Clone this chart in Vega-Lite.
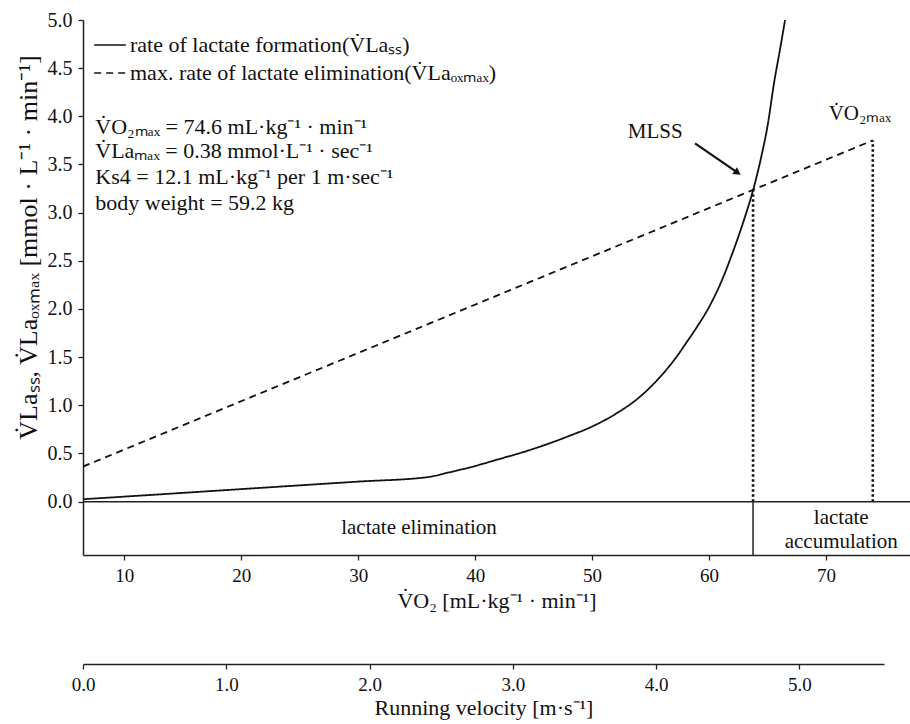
{
  "$schema": "https://vega.github.io/schema/vega-lite/v6.json",
  "width": 827,
  "height": 535,
  "autosize": {"type": "none"},
  "padding": {"left": 83, "top": 20, "right": 0, "bottom": 169},
  "background": "white",
  "config": {
    "font": "Liberation Serif",
    "view": {"stroke": null},
    "axis": {"domainColor": "#222", "tickColor": "#222", "labelColor": "#111", "titleColor": "#111", "grid": false, "labelFont": "Liberation Serif", "titleFont": "Liberation Serif", "titleFontWeight": "normal", "domainWidth": 1.5, "tickWidth": 1.3, "labelFlush": false}
  },
  "layer": [
    {
      "layer": [
        {
          "data": {"values": [
            {"vo2": 6.47, "la": 0.025, "series": "rate of lactate formation(V̇Laₛₛ)"},
            {"vo2": 10, "la": 0.052, "series": "rate of lactate formation(V̇Laₛₛ)"},
            {"vo2": 20, "la": 0.13, "series": "rate of lactate formation(V̇Laₛₛ)"},
            {"vo2": 30, "la": 0.208, "series": "rate of lactate formation(V̇Laₛₛ)"},
            {"vo2": 35.9, "la": 0.254, "series": "rate of lactate formation(V̇Laₛₛ)"},
            {"vo2": 38, "la": 0.31, "series": "rate of lactate formation(V̇Laₛₛ)"},
            {"vo2": 40, "la": 0.37, "series": "rate of lactate formation(V̇Laₛₛ)"},
            {"vo2": 42, "la": 0.44, "series": "rate of lactate formation(V̇Laₛₛ)"},
            {"vo2": 44, "la": 0.51, "series": "rate of lactate formation(V̇Laₛₛ)"},
            {"vo2": 46, "la": 0.59, "series": "rate of lactate formation(V̇Laₛₛ)"},
            {"vo2": 48, "la": 0.68, "series": "rate of lactate formation(V̇Laₛₛ)"},
            {"vo2": 50, "la": 0.78, "series": "rate of lactate formation(V̇Laₛₛ)"},
            {"vo2": 52, "la": 0.91, "series": "rate of lactate formation(V̇Laₛₛ)"},
            {"vo2": 54, "la": 1.08, "series": "rate of lactate formation(V̇Laₛₛ)"},
            {"vo2": 56, "la": 1.32, "series": "rate of lactate formation(V̇Laₛₛ)"},
            {"vo2": 57.2, "la": 1.5, "series": "rate of lactate formation(V̇Laₛₛ)"},
            {"vo2": 58, "la": 1.64, "series": "rate of lactate formation(V̇Laₛₛ)"},
            {"vo2": 59, "la": 1.82, "series": "rate of lactate formation(V̇Laₛₛ)"},
            {"vo2": 60, "la": 2.02, "series": "rate of lactate formation(V̇Laₛₛ)"},
            {"vo2": 61, "la": 2.27, "series": "rate of lactate formation(V̇Laₛₛ)"},
            {"vo2": 62, "la": 2.58, "series": "rate of lactate formation(V̇Laₛₛ)"},
            {"vo2": 63, "la": 2.93, "series": "rate of lactate formation(V̇Laₛₛ)"},
            {"vo2": 63.8, "la": 3.25, "series": "rate of lactate formation(V̇Laₛₛ)"},
            {"vo2": 64.5, "la": 3.6, "series": "rate of lactate formation(V̇Laₛₛ)"},
            {"vo2": 65, "la": 3.9, "series": "rate of lactate formation(V̇Laₛₛ)"},
            {"vo2": 65.6, "la": 4.38, "series": "rate of lactate formation(V̇Laₛₛ)"},
            {"vo2": 66, "la": 4.65, "series": "rate of lactate formation(V̇Laₛₛ)"},
            {"vo2": 66.5, "la": 5.0, "series": "rate of lactate formation(V̇Laₛₛ)"},
            {"vo2": 6.47, "la": 0.364, "series": "max. rate of lactate elimination(V̇Laₒₓₘₐₓ)"},
            {"vo2": 74.0, "la": 3.75, "series": "max. rate of lactate elimination(V̇Laₒₓₘₐₓ)"}
          ]},
          "mark": {"type": "line", "interpolate": "monotone", "color": "#111", "strokeWidth": 1.8, "clip": true},
          "encoding": {
            "x": {"field": "vo2", "type": "quantitative", "scale": {"domain": [6.47, 77.18], "nice": false, "zero": false},
              "axis": {"values": [10, 20, 30, 40, 50, 60, 70], "format": "d", "labelFontSize": 19, "tickSize": 5, "labelPadding": 6,
                "title": "V̇O₂ [mL·kg⁻¹ · min⁻¹]", "titleFontSize": 22, "titlePadding": 5}},
            "y": {"field": "la", "type": "quantitative", "scale": {"domain": [-0.554, 5.0], "nice": false, "zero": false},
              "axis": {"values": [0, 0.5, 1, 1.5, 2, 2.5, 3, 3.5, 4, 4.5, 5], "format": ".1f", "labelFontSize": 20, "tickSize": 5, "labelPadding": 6,
                "title": "V̇Laₛₛ, V̇Laₒₓₘₐₓ [mmol · L⁻¹ · min⁻¹]", "titleFontSize": 26, "titleX": -55, "titleY": 227, "titleAlign": "center", "titleBaseline": "middle", "titleAngle": -90}},
            "strokeDash": {"field": "series", "type": "nominal",
              "scale": {"domain": ["rate of lactate formation(V̇Laₛₛ)", "max. rate of lactate elimination(V̇Laₒₓₘₐₓ)"], "range": [[1, 0], [7, 5]]},
              "legend": {"title": null, "orient": "none", "legendX": 10, "legendY": 8, "symbolType": "stroke", "symbolSize": 1000, "symbolStrokeWidth": 1.6, "symbolStrokeColor": "#111",
                "labelFontSize": 22, "labelColor": "#111", "labelOffset": 3, "labelLimit": 0, "rowPadding": -6.5}}
          }
        },
        {
          "data": {"values": [{"vo2": 63.76, "base": 0, "top": 3.24}, {"vo2": 74.0, "base": 0, "top": 3.75}]},
          "mark": {"type": "rule", "color": "#111", "strokeWidth": 2.6, "strokeDash": [2.5, 2.5]},
          "encoding": {"x": {"field": "vo2", "type": "quantitative"}, "y": {"field": "base", "type": "quantitative"}, "y2": {"field": "top"}}
        },
        {
          "data": {"values": [{"vo2": 63.76, "base": 0, "bottom": -0.554}]},
          "mark": {"type": "rule", "color": "#222", "strokeWidth": 1.5},
          "encoding": {"x": {"field": "vo2", "type": "quantitative"}, "y": {"field": "base", "type": "quantitative"}, "y2": {"field": "bottom"}}
        },
        {
          "data": {"values": [{"base": 0}]},
          "mark": {"type": "rule", "color": "#222", "strokeWidth": 1.5},
          "encoding": {"y": {"field": "base", "type": "quantitative"}}
        },
        {
          "data": {"values": [{"x1": 58.8, "y1": 3.72, "x2": 62.44, "y2": 3.415}]},
          "mark": {"type": "rule", "color": "#111", "strokeWidth": 2.2},
          "encoding": {"x": {"field": "x1", "type": "quantitative"}, "y": {"field": "y1", "type": "quantitative"}, "x2": {"field": "x2"}, "y2": {"field": "y2"}}
        },
        {
          "data": {"values": [{"x": 62.44, "y": 3.415}]},
          "mark": {"type": "point", "shape": "triangle-up", "filled": true, "color": "#111", "size": 70, "angle": 124, "opacity": 1},
          "encoding": {"x": {"field": "x", "type": "quantitative"}, "y": {"field": "y", "type": "quantitative"}}
        },
        {
          "data": {"values": [
            {"x": 7.52, "y": 3.89, "label": "V̇O₂ₘₐₓ = 74.6 mL·kg⁻¹ · min⁻¹"},
            {"x": 7.52, "y": 3.64, "label": "V̇Laₘₐₓ = 0.38 mmol·L⁻¹ · sec⁻¹"},
            {"x": 7.52, "y": 3.37, "label": "Ks4 = 12.1 mL·kg⁻¹ per 1 m·sec⁻¹"},
            {"x": 7.52, "y": 3.1, "label": "body weight = 59.2 kg"}
          ]},
          "mark": {"type": "text", "align": "left", "baseline": "middle", "fontSize": 22, "color": "#111"},
          "encoding": {"x": {"field": "x", "type": "quantitative"}, "y": {"field": "y", "type": "quantitative"}, "text": {"field": "label", "type": "nominal"}}
        },
        {
          "data": {"values": [
            {"x": 55.4, "y": 3.84, "label": "MLSS"},
            {"x": 72.9, "y": 4.02, "label": "V̇O₂ₘₐₓ"}
          ]},
          "mark": {"type": "text", "align": "center", "baseline": "middle", "fontSize": 21, "color": "#111"},
          "encoding": {"x": {"field": "x", "type": "quantitative"}, "y": {"field": "y", "type": "quantitative"}, "text": {"field": "label", "type": "nominal"}}
        },
        {
          "data": {"values": [
            {"x": 35.2, "y": -0.277, "label": "lactate elimination"},
            {"x": 71.3, "y": -0.17, "label": "lactate"},
            {"x": 71.3, "y": -0.419, "label": "accumulation"}
          ]},
          "mark": {"type": "text", "align": "center", "baseline": "middle", "fontSize": 21, "color": "#111"},
          "encoding": {"x": {"field": "x", "type": "quantitative"}, "y": {"field": "y", "type": "quantitative"}, "text": {"field": "label", "type": "nominal"}}
        }
      ]
    },
    {
      "data": {"values": [{"v": 0}, {"v": 5.59}]},
      "mark": {"type": "point", "opacity": 0},
      "encoding": {
        "x": {"field": "v", "type": "quantitative", "scale": {"domain": [0, 5.59], "range": [0, 801], "nice": false, "zero": false},
          "axis": {"orient": "bottom", "offset": 109, "values": [0, 1, 2, 3, 4, 5], "format": ".1f", "labelFontSize": 19, "tickSize": 5, "labelPadding": 6,
            "title": "Running velocity [m·s⁻¹]", "titleFontSize": 22, "titlePadding": 3}}
      }
    }
  ],
  "resolve": {"scale": {"x": "independent"}, "axis": {"x": "independent"}}
}
